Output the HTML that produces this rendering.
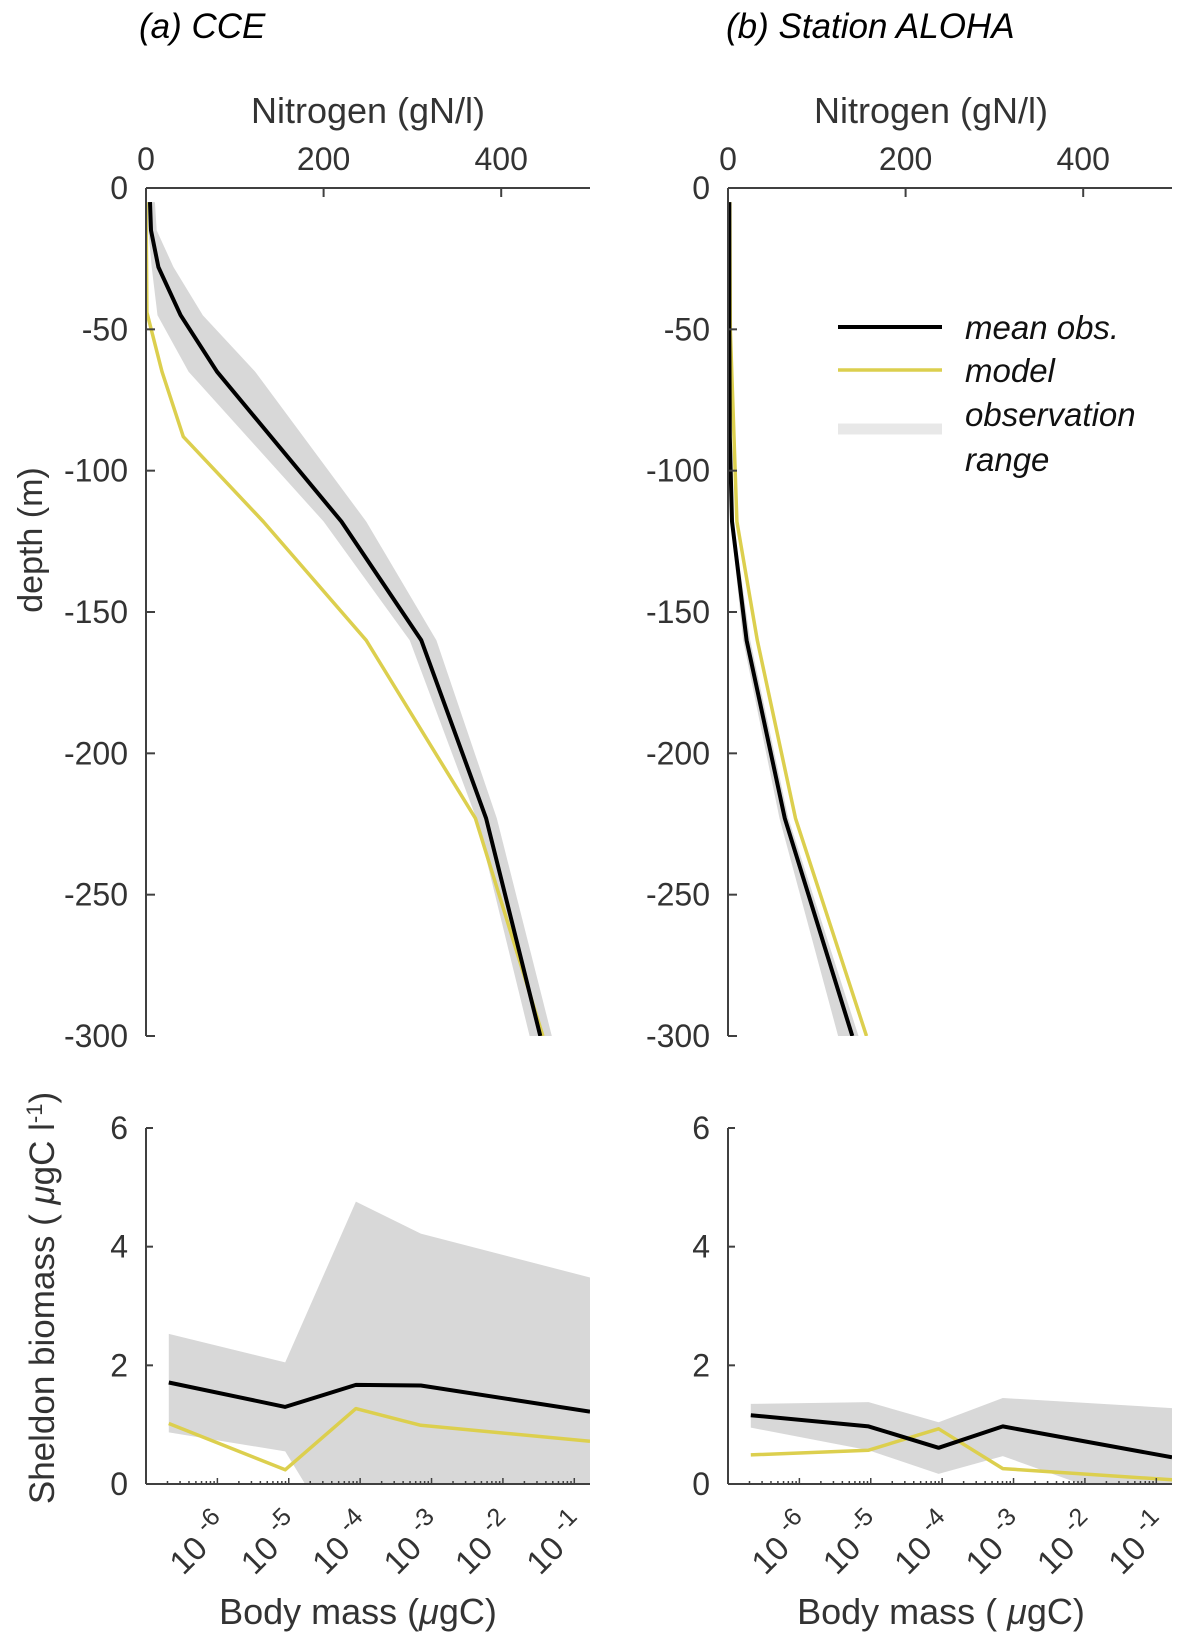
<!DOCTYPE html>
<html><head><meta charset="utf-8">
<style>
html,body{margin:0;padding:0;background:#fff;}
svg{display:block;font-family:"Liberation Sans",Arial,sans-serif;}
</style></head>
<body>
<svg id="fig" width="1185" height="1646" viewBox="0 0 1185 1646" xmlns="http://www.w3.org/2000/svg">
<defs>
<clipPath id="cA"><rect x="146" y="188" width="444" height="848"/></clipPath>
<clipPath id="cB"><rect x="728" y="188" width="444" height="848"/></clipPath>
<clipPath id="cC"><rect x="146" y="1128" width="444" height="356"/></clipPath>
<clipPath id="cD"><rect x="728" y="1128" width="444" height="356"/></clipPath>
</defs>
<text x="139" y="38" font-size="35" font-style="italic" fill="#000">(a) CCE</text>
<text x="726" y="38" font-size="35" font-style="italic" fill="#000">(b) Station ALOHA</text>
<text x="368" y="123" font-size="36" text-anchor="middle" fill="#333">Nitrogen (gN/l)</text>
<text x="931" y="123" font-size="36" text-anchor="middle" fill="#333">Nitrogen (gN/l)</text>
<text transform="translate(42,540) rotate(-90)" font-size="34" text-anchor="middle" fill="#333">depth (m)</text>
<text transform="translate(54,1298) rotate(-90)" font-size="35" text-anchor="middle" fill="#333">Sheldon biomass ( <tspan font-style="italic">μ</tspan>gC l<tspan dy="-12" font-size="22">-1</tspan><tspan dy="12">)</tspan></text>
<text x="358" y="1624" font-size="36" text-anchor="middle" fill="#333">Body mass (<tspan font-style="italic">μ</tspan>gC)</text>
<text x="941" y="1624" font-size="36" text-anchor="middle" fill="#333">Body mass ( <tspan font-style="italic">μ</tspan>gC)</text>
<g id="plots"></g>
<g>
<line x1="838" y1="327" x2="942" y2="327" stroke="#000" stroke-width="4"/>
<line x1="838" y1="370" x2="942" y2="370" stroke="#dccf4e" stroke-width="3.5"/>
<line x1="838" y1="429" x2="942" y2="429" stroke="#e8e8e8" stroke-width="11"/>
<text x="965" y="339" font-size="33" font-style="italic" fill="#111">mean obs.</text>
<text x="965" y="382" font-size="33" font-style="italic" fill="#111">model</text>
<text x="965" y="426" font-size="33" font-style="italic" fill="#111">observation</text>
<text x="965" y="471" font-size="33" font-style="italic" fill="#111">range</text>
</g>
</svg>
<script>
// Panel (a) CCE nitrogen profile
const depthsObsA = [-5,-15,-28,-45,-65,-118,-160,-223,-300];
const obsA = [4.5,5.6,14,39,80,220,310,383,444];
const upperA = [10,12,31,64,123,248,327,395,457];
const lowerA = [0,2.6,6.4,13,48,200,297,372,432];
const depthsModelA = [-5,-44,-65,-88,-118,-160,-223,-300];
const modelA = [0,1,18,42,132,248,371,447];
// Panel (b) ALOHA nitrogen profile
const depthsObsB = [-5,-50,-88,-118,-160,-223,-300];
const obsB = [1.5,1.5,2,4.5,21,64,140];
const upperB = [2.5,2.5,3,6,25,68,147];
const lowerB = [0.5,0.5,1,3,17,58,124];
const depthsModelB = [-5,-50,-118,-160,-223,-300];
const modelB = [2,2.6,10,33,76,156];
// Sheldon biomass (log10 body mass)
const massLogA = [-6.68,-5.05,-4.06,-3.15,-0.78];
const biomassObsA = [1.71,1.30,1.67,1.66,1.22];
const biomassModelA = [1.02,0.24,1.27,0.99,0.72];
const biomassUpperA = [2.53,2.05,4.76,4.22,3.48];
const biomassLowerA = [0.87,0.55,-1.4,-1.5,-1.0];
const massLogB = [-6.68,-5.03,-4.05,-3.15,-0.78];
const biomassObsB = [1.16,0.97,0.61,0.97,0.45];
const biomassModelB = [0.49,0.57,0.93,0.26,0.07];
const biomassUpperB = [1.35,1.38,1.04,1.45,1.28];
const biomassLowerB = [0.95,0.57,0.17,0.47,-0.55];
const nitroTicks = [0,200,400];
const depthTicks = [0,-50,-100,-150,-200,-250,-300];
const biomassTicks = [0,2,4,6];
const massTicks = [-6,-5,-4,-3,-2,-1];

const NS = "http://www.w3.org/2000/svg";
const root = document.getElementById('plots');
const AX = "#404040", GRAY = "#d8d8d8", YEL = "#dccf4e";
function mk(tag, attrs, parent){
  const e = document.createElementNS(NS, tag);
  for (const k in attrs) e.setAttribute(k, attrs[k]);
  (parent||root).appendChild(e); return e;
}
function path(pts){ return pts.map((p,i)=>(i?'L':'M')+p[0].toFixed(1)+' '+p[1].toFixed(1)).join(' '); }

function profile(x0, clip, dO, o, up, lo, dM, m, tag){
  const sx = v => x0 + v/500*444;
  const sy = d => 188 + (-d)/300*848;
  const g = mk('g', {'clip-path':'url(#'+clip+')'});
  const band = up.map((v,i)=>[sx(v),sy(dO[i])]).concat(lo.map((v,i)=>[sx(v),sy(dO[i])]).reverse());
  const b = mk('path', {d: path(band)+'Z', fill: GRAY}, g);
  
  
  const ml = mk('path', {d: path(m.map((v,i)=>[sx(v),sy(dM[i])])), fill:'none', stroke:YEL, 'stroke-width':3.5, 'stroke-linejoin':'round'}, g);
  
  
  const ol = mk('path', {d: path(o.map((v,i)=>[sx(v),sy(dO[i])])), fill:'none', stroke:'#000', 'stroke-width':4, 'stroke-linejoin':'round'}, g);
  
  
  const ax = mk('g', {});
  
  
  mk('line', {x1:x0, y1:188, x2:x0+444, y2:188, stroke:AX, 'stroke-width':2}, ax);
  mk('line', {x1:x0, y1:188, x2:x0, y2:1036, stroke:AX, 'stroke-width':2}, ax);
  nitroTicks.forEach(t=>{
    mk('line', {x1:sx(t), y1:188, x2:sx(t), y2:197, stroke:AX, 'stroke-width':2}, ax);
    const tx = mk('text', {x:sx(t), y:170, 'font-size':32, 'text-anchor':'middle', fill:'#333'}, ax);
    tx.textContent = t;
    
    
  });
  depthTicks.forEach(t=>{
    mk('line', {x1:x0, y1:sy(t), x2:x0+9, y2:sy(t), stroke:AX, 'stroke-width':2}, ax);
    const tx = mk('text', {x:x0-18, y:sy(t)+11, 'font-size':32, 'text-anchor':'end', fill:'#333'}, ax);
    tx.textContent = t;
    
    
  });
}

function sheldon(x0, clip, xs, o, m, up, lo, tag){
  const sx = v => x0 + (v+7)/6.22*444;
  const sy = v => 1484 - v/6*356;
  const g = mk('g', {'clip-path':'url(#'+clip+')'});
  const band = up.map((v,i)=>[sx(xs[i]),sy(v)]).concat(lo.map((v,i)=>[sx(xs[i]),sy(v)]).reverse());
  const b = mk('path', {d: path(band)+'Z', fill: GRAY}, g);
  
  
  const ml = mk('path', {d: path(m.map((v,i)=>[sx(xs[i]),sy(v)])), fill:'none', stroke:YEL, 'stroke-width':3.5, 'stroke-linejoin':'round'}, g);
  
  
  const ol = mk('path', {d: path(o.map((v,i)=>[sx(xs[i]),sy(v)])), fill:'none', stroke:'#000', 'stroke-width':4, 'stroke-linejoin':'round'}, g);
  
  
  const ax = mk('g', {});
  
  
  mk('line', {x1:x0, y1:1484, x2:x0+444, y2:1484, stroke:AX, 'stroke-width':2}, ax);
  mk('line', {x1:x0, y1:1128, x2:x0, y2:1484, stroke:AX, 'stroke-width':2}, ax);
  biomassTicks.forEach(t=>{
    mk('line', {x1:x0, y1:sy(t), x2:x0+7, y2:sy(t), stroke:AX, 'stroke-width':2}, ax);
    const tx = mk('text', {x:x0-18, y:sy(t)+11, 'font-size':32, 'text-anchor':'end', fill:'#333'}, ax);
    tx.textContent = t;
    
    
  });
  for (let d=-7; d<=-1; d++){
    for (let k=1; k<=9; k++){
      const lv = d + Math.log10(k);
      if (lv < -7 || lv > -0.78) continue;
      const X = sx(lv);
      mk('line', {x1:X, y1:1484, x2:X, y2:1484-(k===1?6:3), stroke:AX, 'stroke-width':1.5}, ax);
    }
  }
  massTicks.forEach(t=>{
    const X = sx(t);
    const tx = mk('text', {transform:'translate('+(X+14)+',1528) rotate(-45)', 'font-size':33, 'text-anchor':'end', fill:'#333'}, ax);
    
    
    const a = document.createElementNS(NS,'tspan'); a.textContent = '10 '; tx.appendChild(a);
    const s = document.createElementNS(NS,'tspan'); s.setAttribute('dy','-14'); s.setAttribute('font-size','25'); s.textContent = t; tx.appendChild(s);
  });
}

profile(146, 'cA', depthsObsA, obsA, upperA, lowerA, depthsModelA, modelA, 'cce');
profile(728, 'cB', depthsObsB, obsB, upperB, lowerB, depthsModelB, modelB, 'aloha');
sheldon(146, 'cC', massLogA, biomassObsA, biomassModelA, biomassUpperA, biomassLowerA, 'cce');
sheldon(728, 'cD', massLogB, biomassObsB, biomassModelB, biomassUpperB, biomassLowerB, 'aloha');
</script>
</body></html>
